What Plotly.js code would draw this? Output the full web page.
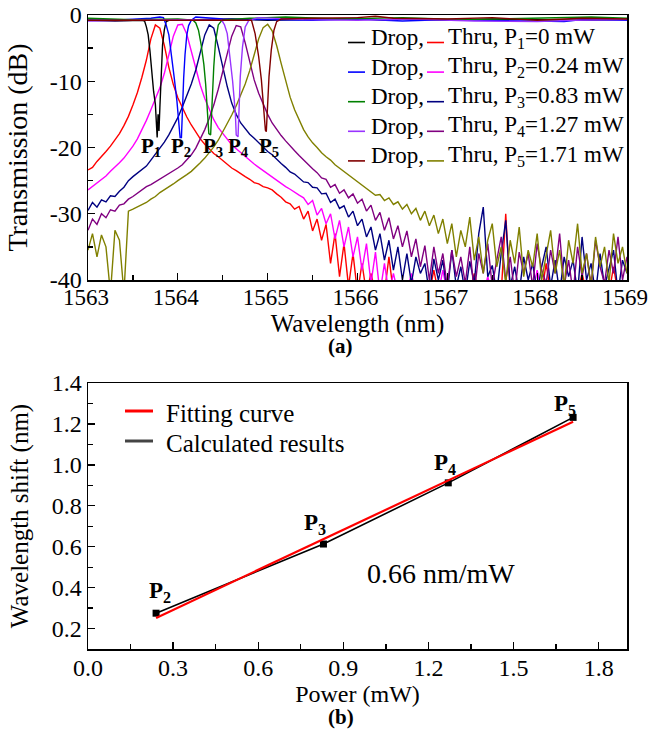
<!DOCTYPE html>
<html>
<head>
<meta charset="utf-8">
<script src="https://cdn.plot.ly/plotly-3.0.1.min.js"></script>
<style>html,body{margin:0;padding:0;background:#fff;}#chart{width:649px;height:730px;}</style>
</head>
<body>
<div id="chart"></div>
<script>
// ---------- Panel (a): transmission spectra ----------
const wavelength = [
1563.00,1563.05,1563.10,1563.15,1563.20,1563.25,1563.30,1563.35,1563.40,1563.45,1563.50,1563.55,1563.60,1563.65,1563.70,1563.75,1563.80,1563.85,1563.90,1563.95,
1564.00,1564.05,1564.10,1564.15,1564.20,1564.25,1564.30,1564.35,1564.40,1564.45,1564.50,1564.55,1564.60,1564.65,1564.70,1564.75,1564.80,1564.85,1564.90,1564.95,
1565.00,1565.05,1565.10,1565.15,1565.20,1565.25,1565.30,1565.35,1565.40,1565.45,1565.50,1565.55,1565.60,1565.65,1565.70,1565.75,1565.80,1565.85,1565.90,1565.95,
1566.00,1566.05,1566.10,1566.15,1566.20,1566.25,1566.30,1566.35,1566.40,1566.45,1566.50,1566.55,1566.60,1566.65,1566.70,1566.75,1566.80,1566.85,1566.90,1566.95,
1567.00,1567.05,1567.10,1567.15,1567.20,1567.25,1567.30,1567.35,1567.40,1567.45,1567.50,1567.55,1567.60,1567.65,1567.70,1567.75,1567.80,1567.85,1567.90,1567.95,
1568.00,1568.05,1568.10,1568.15,1568.20,1568.25,1568.30,1568.35,1568.40,1568.45,1568.50,1568.55,1568.60,1568.65,1568.70,1568.75,1568.80,1568.85,1568.90,1568.95,
1569.00];

const thruP1 = [
-23.4,-23.0,-22.1,-21.4,-20.6,-19.8,-18.9,-17.9,-16.7,-15.3,-13.6,-11.7,-9.4,-6.8,-3.6,-1.5,-2.0,-4.6,-7.9,-10.5,
-12.5,-14.0,-15.4,-16.6,-17.7,-18.7,-19.5,-20.2,-20.9,-21.4,-22.0,-22.5,-23.1,-23.5,-24.0,-24.4,-24.8,-25.3,-25.5,-25.9,
-26.1,-26.4,-27.0,-27.5,-28.2,-28.5,-29.3,-28.9,-30.8,-29.6,-32.6,-30.8,-34.0,-31.6,-37.5,-33.0,-39.5,-34.5,-41,-36.0,
-42,-37.5,-42,-39.0,-42,-40.5,-42,-36.5,-42,-42,-42,-41,-42,-42,-42,-42,-42,-38.5,-42,-42,
-42,-42,-41,-42,-42,-42,-39.0,-42,-42,-42,-42,-42,-42,-30.0,-42,-42,-42,-42,-41,-42,
-42,-42,-37.5,-42,-42,-42,-42,-42,-42,-42,-39.0,-42,-42,-42,-42,-42,-42,-38.0,-42,-42,
-42];

const thruP2 = [
-26.4,-25.9,-25.4,-24.8,-24.3,-23.6,-23.0,-22.3,-21.6,-20.7,-19.8,-18.7,-17.4,-15.9,-14.3,-12.6,-11.0,-8.8,-5.9,-3.2,
-1.5,-1.4,-2.9,-5.5,-8.2,-10.6,-12.6,-14.3,-15.8,-17.0,-17.9,-18.7,-19.6,-20.2,-20.8,-21.4,-21.9,-22.5,-23.0,-23.5,
-24.0,-24.5,-24.9,-25.4,-25.9,-26.3,-26.8,-27.2,-27.6,-28.6,-28.0,-30.2,-29.2,-31.5,-30.0,-33.8,-31.0,-35.0,-32.0,-36.5,
-33.5,-38.5,-34.5,-40.5,-35.8,-42,-37.5,-42,-39.0,-42,-42,-42,-39.0,-42,-42,-42,-42,-42,-42,-38.5,
-42,-42,-42,-42,-41,-42,-42,-42,-42,-39.5,-42,-42,-42,-42,-42,-42,-40.5,-42,-42,-42,
-38.5,-42,-42,-42,-42,-42,-42,-41,-42,-42,-42,-42,-39.5,-42,-42,-42,-42,-42,-42,-40.5,
-42];

const thruP3 = [
-29.5,-28.3,-29.0,-27.9,-28.2,-27.3,-27.4,-26.6,-26.0,-25.0,-24.4,-23.9,-23.3,-22.8,-21.9,-21.0,-20.2,-19.2,-18.1,-16.9,
-15.5,-13.9,-12.2,-10.4,-8.3,-5.7,-3.0,-1.5,-2.0,-4.8,-7.9,-10.8,-13.3,-15.0,-16.3,-17.2,-18.0,-18.6,-19.3,-19.9,
-20.6,-21.1,-21.8,-22.4,-23.0,-23.7,-24.0,-24.6,-25.2,-25.3,-26.0,-26.1,-27.0,-26.9,-28.3,-27.8,-29.2,-28.8,-30.5,-29.6,
-31.8,-30.8,-33.5,-32.0,-35.5,-33.0,-37.0,-34.0,-38.5,-35.0,-40.0,-36.0,-40.5,-36.5,-39.0,-37.5,-42,-36.8,-40.0,-37.0,
-42,-35.5,-41,-38.0,-42,-37.2,-40.5,-33.0,-29.0,-39.5,-37.8,-42,-36.0,-31.0,-41,-38.0,-42,-36.5,-40.0,-37.5,
-42,-38.0,-35.0,-41,-37.0,-42,-36.5,-39.5,-37.0,-42,-33.5,-40.0,-37.5,-42,-36.0,-41,-38.0,-35.5,-42,-37.0,
-39.0];

const thruP4 = [
-32.5,-30.8,-31.6,-30.0,-30.6,-29.4,-29.6,-28.7,-28.5,-27.8,-27.4,-26.9,-26.4,-25.9,-25.6,-25.2,-24.8,-24.4,-24.0,-23.6,
-23.1,-22.6,-21.9,-21.1,-20.1,-18.8,-17.3,-15.6,-13.6,-11.2,-8.6,-5.8,-3.2,-1.6,-1.8,-4.2,-7.1,-9.8,-11.8,-13.5,
-15.0,-16.3,-17.3,-18.2,-19.0,-19.8,-20.5,-21.2,-21.9,-22.6,-23.2,-23.8,-24.6,-24.8,-26.0,-25.6,-26.9,-26.4,-27.6,-27.0,
-28.4,-27.8,-29.6,-28.7,-31.0,-29.8,-32.5,-30.6,-33.8,-31.8,-35.0,-32.6,-36.5,-33.8,-38.0,-34.8,-40.0,-35.0,-39.0,-36.0,
-41,-35.5,-39.5,-36.5,-40.5,-35.0,-42,-36.0,-39.0,-34.5,-41,-37.0,-33.5,-40.0,-36.5,-42,-35.8,-39.0,-36.0,-41,
-34.5,-38.5,-40.5,-35.5,-39.0,-33.0,-41,-37.0,-42,-35.0,-39.5,-36.0,-41,-34.0,-38.0,-40.5,-35.5,-39.0,-33.5,-40.0,
-36.5];

const thruP5 = [
-35.5,-33.0,-36.5,-33.2,-35.0,-42,-32.5,-34.0,-42,-29.6,-29.3,-29.0,-28.6,-28.3,-27.8,-27.4,-26.8,-26.4,-25.9,-25.5,
-25.0,-24.6,-24.1,-23.6,-23.0,-22.3,-21.6,-20.8,-19.9,-18.9,-17.7,-16.4,-15.1,-13.7,-12.1,-10.4,-8.4,-6.1,-3.6,-1.9,
-1.4,-2.4,-4.6,-7.3,-10.0,-12.4,-14.3,-15.9,-17.3,-18.4,-19.3,-20.0,-20.8,-21.4,-21.9,-22.6,-23.1,-23.6,-24.2,-24.7,
-25.1,-25.6,-26.1,-26.6,-27.2,-27.1,-28.0,-27.6,-28.6,-28.2,-29.3,-28.6,-30.0,-29.2,-31.0,-29.6,-31.8,-30.2,-33.0,-30.8,
-34.5,-31.5,-36.5,-32.5,-35.0,-30.5,-37.0,-33.5,-39.0,-34.0,-31.5,-38.0,-35.0,-40.5,-34.0,-37.5,-32.0,-39.5,-35.5,-38.0,
-33.0,-40.0,-36.0,-32.5,-39.0,-35.5,-41,-34.0,-37.5,-31.5,-39.0,-36.0,-41,-33.5,-38.0,-35.0,-40.5,-33.0,-37.5,-35.0,
-39.0];

const dropP1X = [1563.00,1563.30,1563.60,1563.63,1563.65,1563.67,1563.69,1563.71,1563.73,1563.75,1563.76,1563.77,1563.78,1563.79,1563.80,1563.81,1563.82,1563.83,1563.85,1563.87,1563.90,1564.20,1564.60,1565.00,1565.50,1566.00,1566.30,1566.45,1567.00,1567.50,1568.00,1568.50,1569.00];
const dropP1Y = [-0.8,-0.9,-0.8,-0.9,-1.8,-3.0,-5.5,-9.0,-11.5,-13.5,-16.0,-18.5,-15.0,-17.5,-14.0,-10.5,-7.0,-4.5,-2.2,-1.0,-0.8,-0.7,-0.6,-0.8,-0.7,-0.5,-0.8,-0.6,-0.8,-0.6,-0.7,-0.8,-0.7];
const dropP2X = [1563.00,1563.40,1563.70,1563.80,1563.84,1563.87,1563.90,1563.93,1563.96,1563.99,1564.01,1564.025,1564.04,1564.05,1564.065,1564.08,1564.10,1564.12,1564.15,1564.20,1564.50,1565.00,1565.50,1566.00,1566.50,1567.00,1567.50,1568.00,1568.30,1568.50,1569.00];
const dropP2Y = [-0.8,-0.7,-0.5,-0.3,-0.4,-1.5,-3.0,-6.0,-9.5,-13.0,-16.5,-18.5,-18.5,-14.0,-9.5,-6.0,-3.0,-1.6,-0.8,-0.3,-0.6,-0.7,-0.8,-0.6,-0.9,-0.7,-0.8,-1.0,-1.0,-0.7,-0.8];
const dropP3X = [1563.00,1563.50,1564.00,1564.17,1564.20,1564.23,1564.26,1564.29,1564.31,1564.33,1564.345,1564.365,1564.38,1564.40,1564.42,1564.45,1564.49,1564.55,1564.80,1565.20,1565.80,1566.50,1567.20,1568.00,1568.60,1569.00];
const dropP3Y = [-0.5,-0.7,-0.6,-0.8,-1.2,-2.3,-4.5,-7.5,-10.5,-14.3,-17.9,-18.1,-12.8,-7.8,-4.0,-1.5,-0.8,-0.7,-0.5,-0.3,-0.6,-0.4,-0.7,-0.5,-0.3,-0.5];
const dropP4X = [1563.00,1563.50,1564.00,1564.49,1564.52,1564.55,1564.58,1564.61,1564.64,1564.65,1564.67,1564.68,1564.695,1564.72,1564.75,1564.79,1564.90,1565.40,1566.00,1566.60,1567.30,1568.00,1568.40,1569.00];
const dropP4Y = [-0.9,-0.8,-0.7,-0.8,-1.5,-2.8,-6.0,-10.0,-14.8,-18.1,-18.4,-14.3,-9.3,-4.8,-1.8,-0.8,-0.4,-0.7,-0.8,-0.6,-0.9,-1.0,-0.8,-0.7];
const dropP5X = [1563.00,1563.50,1564.00,1564.50,1564.82,1564.86,1564.90,1564.93,1564.955,1564.975,1564.985,1565.00,1565.015,1565.04,1565.07,1565.10,1565.15,1565.50,1566.00,1566.20,1566.40,1567.00,1567.50,1568.00,1568.50,1569.00];
const dropP5Y = [-0.8,-0.8,-0.9,-0.8,-0.8,-2.8,-6.3,-9.8,-13.8,-17.4,-17.6,-13.8,-9.3,-5.3,-2.3,-1.0,-0.6,-0.5,-0.4,-0.2,-0.5,-0.6,-0.4,-0.8,-0.5,-0.6];

const powerLabels = ['P<sub>1</sub>=0 mW','P<sub>2</sub>=0.24 mW','P<sub>3</sub>=0.83 mW','P<sub>4</sub>=1.27 mW','P<sub>5</sub>=1.71 mW'];
const dropColors = ['#000000','#0000ff','#008000','#9933ff','#800000'];
const thruColors = ['#ff0000','#ff00ff','#000080','#800080','#808000'];
const peakNames = ['P<sub>1</sub>','P<sub>2</sub>','P<sub>3</sub>','P<sub>4</sub>','P<sub>5</sub>'];
const peakLabelWl = [1563.70,1564.04,1564.39,1564.67,1565.02];
const peakLabelDb = -19.9;
const xTickVals = [1563,1564,1565,1566,1567,1568,1569];
const yTickVals = [-40,-30,-20,-10,0];
const yTickText = ['-40','-30','-20','-10','0'];

// ---------- Panel (b): wavelength shift vs power ----------
const power = [0.24, 0.83, 1.27, 1.71];
const shift = [0.275, 0.613, 0.912, 1.232];
const fitPower = [0.24, 1.71];
const fitShift = [0.252, 1.211];
const shiftLabels = ['P<sub>2</sub>','P<sub>3</sub>','P<sub>4</sub>','P<sub>5</sub>'];
const shiftLabelDx = [4, -8, -3, -8];
const shiftLabelDy = [21, 20, 19, 12];

// ---------- geometry helpers (pixel -> paper) ----------
const L = 88, R = 22, T = 15, B = 81, W = 649, H = 730;
const PW = W - L - R, PH = H - T - B;
const px = x => (x - L) / PW;
const py = y => (H - B - y) / PH;

const FONT = 'Liberation Serif, Times New Roman, serif';

const thruY = [thruP1, thruP2, thruP3, thruP4, thruP5];
const dropX = [dropP1X, dropP2X, dropP3X, dropP4X, dropP5X];
const dropY = [dropP1Y, dropP2Y, dropP3Y, dropP4Y, dropP5Y];

const traces = [];
for (let i = 0; i < 5; i++) {
  traces.push({x: wavelength, y: thruY[i], type: 'scatter', mode: 'lines', name: 'Thru, ' + powerLabels[i],
    line: {color: thruColors[i], width: 1.4}, xaxis: 'x', yaxis: 'y', showlegend: false, hoverinfo: 'skip'});
}
for (let i = 0; i < 5; i++) {
  traces.push({x: dropX[i], y: dropY[i], type: 'scatter', mode: 'lines', name: 'Drop, ' + powerLabels[i],
    line: {color: dropColors[i], width: 1.4}, xaxis: 'x', yaxis: 'y', showlegend: false, hoverinfo: 'skip'});
}
traces.push({x: power, y: shift, type: 'scatter', mode: 'lines+markers', name: 'Calculated results',
  line: {color: '#000000', width: 1.6}, marker: {symbol: 'square', size: 7, color: '#000000'},
  xaxis: 'x2', yaxis: 'y2', showlegend: false});
traces.push({x: fitPower, y: fitShift, type: 'scatter', mode: 'lines', name: 'Fitting curve',
  line: {color: '#ff0000', width: 2.2}, xaxis: 'x2', yaxis: 'y2', showlegend: false});

const annotations = [];
const shapes = [];

// legend of panel (a)
for (let i = 0; i < 5; i++) {
  const cy = 37.5 + 29.6 * i;
  shapes.push({type: 'line', xref: 'paper', yref: 'paper', x0: px(348), x1: px(365), y0: py(cy + 5), y1: py(cy + 5),
    line: {color: dropColors[i], width: 1.6}});
  shapes.push({type: 'line', xref: 'paper', yref: 'paper', x0: px(427), x1: px(444), y0: py(cy + 5), y1: py(cy + 5),
    line: {color: thruColors[i], width: 1.6}});
  annotations.push({xref: 'paper', yref: 'paper', x: px(369), y: py(cy), xanchor: 'left', yanchor: 'middle',
    text: 'Drop,', showarrow: false, font: {family: FONT, size: 23, color: '#000'}});
  annotations.push({xref: 'paper', yref: 'paper', x: px(446), y: py(cy), xanchor: 'left', yanchor: 'middle',
    text: 'Thru, ' + powerLabels[i], showarrow: false, font: {family: FONT, size: 23, color: '#000'}});
}
// peak labels in panel (a)
for (let i = 0; i < 5; i++) {
  annotations.push({xref: 'x', yref: 'y', x: peakLabelWl[i], y: peakLabelDb, xanchor: 'center', yanchor: 'middle',
    text: '<b>' + peakNames[i] + '</b>', showarrow: false, font: {family: FONT, size: 21, color: '#000'}});
}
// legend of panel (b)
shapes.push({type: 'line', xref: 'paper', yref: 'paper', x0: px(125), x1: px(153), y0: py(411), y1: py(411),
  line: {color: '#ff0000', width: 3}});
shapes.push({type: 'line', xref: 'paper', yref: 'paper', x0: px(125), x1: px(153), y0: py(441), y1: py(441),
  line: {color: '#444444', width: 3}});
annotations.push({xref: 'paper', yref: 'paper', x: px(164), y: py(413), xanchor: 'left', yanchor: 'middle',
  text: 'Fitting curve', showarrow: false, font: {family: FONT, size: 25, color: '#000'}});
annotations.push({xref: 'paper', yref: 'paper', x: px(164), y: py(443), xanchor: 'left', yanchor: 'middle',
  text: 'Calculated results', showarrow: false, font: {family: FONT, size: 25, color: '#000'}});
// point labels in panel (b)
for (let i = 0; i < 4; i++) {
  annotations.push({xref: 'x2', yref: 'y2', x: power[i], y: shift[i], xshift: shiftLabelDx[i], yshift: shiftLabelDy[i],
    xanchor: 'center', yanchor: 'middle', text: '<b>' + shiftLabels[i] + '</b>', showarrow: false,
    font: {family: FONT, size: 23, color: '#000'}});
}
annotations.push({xref: 'paper', yref: 'paper', x: px(441), y: py(573), xanchor: 'center', yanchor: 'middle',
  text: '0.66 nm/mW', showarrow: false, font: {family: FONT, size: 28, color: '#000'}});
annotations.push({xref: 'paper', yref: 'paper', x: px(340), y: py(346), xanchor: 'center', yanchor: 'middle',
  text: '<b>(a)</b>', showarrow: false, font: {family: FONT, size: 21, color: '#000'}});
annotations.push({xref: 'paper', yref: 'paper', x: px(341), y: py(717), xanchor: 'center', yanchor: 'middle',
  text: '<b>(b)</b>', showarrow: false, font: {family: FONT, size: 21, color: '#000'}});

const axisCommon = {
  showline: true, linecolor: '#000', linewidth: 1.5, mirror: true,
  ticks: 'inside', ticklen: 7, tickwidth: 1.3, tickcolor: '#000',
  showgrid: false, zeroline: false,
  tickfont: {family: FONT, size: 24, color: '#000'}
};

const layout = {
  width: W, height: H,
  margin: {l: L, r: R, t: T, b: B, pad: 0},
  paper_bgcolor: '#fff', plot_bgcolor: '#fff',
  font: {family: FONT, color: '#000'},
  showlegend: false,
  xaxis: Object.assign({}, axisCommon, {
    domain: [0, 1], anchor: 'y', range: [1563, 1569], tickmode: 'array', tickvals: xTickVals,
    tickfont: {family: FONT, size: 23, color: '#000'},
    ticklabelstandoff: -4, ticklabeloverflow: 'allow', ticklabelshift: -2,
    minor: {ticks: 'inside', ticklen: 5, dtick: 0.5, tick0: 1563, tickcolor: '#000', showgrid: false},
    title: {text: 'Wavelength (nm)', font: {family: FONT, size: 25, color: '#000'}, standoff: 2}
  }),
  yaxis: Object.assign({}, axisCommon, {
    domain: [py(280), 1], anchor: 'x', range: [-40, 0], tickmode: 'array', tickvals: yTickVals, ticktext: yTickText,
    minor: {ticks: 'inside', ticklen: 5, dtick: 5, tick0: 0, tickcolor: '#000', showgrid: false},
    title: {text: 'Transmission (dB)', font: {family: FONT, size: 28, color: '#000'}, standoff: 14}
  }),
  xaxis2: Object.assign({}, axisCommon, {
    domain: [0, 1], anchor: 'y2', range: [0, 1.9], dtick: 0.3, tick0: 0, tickformat: '.1f',
    ticklabelstandoff: -3,
    minor: {ticks: 'inside', ticklen: 5, dtick: 0.15, tick0: 0, tickcolor: '#000', showgrid: false},
    title: {text: 'Power (mW)', font: {family: FONT, size: 24, color: '#000'}, standoff: 0}
  }),
  yaxis2: Object.assign({}, axisCommon, {
    domain: [0, py(383)], anchor: 'x2', range: [0.1, 1.4], dtick: 0.2, tick0: 0, tickformat: '.1f',
    minor: {ticks: 'inside', ticklen: 5, dtick: 0.1, tick0: 0, tickcolor: '#000', showgrid: false},
    title: {text: 'Wavelength shift (nm)', font: {family: FONT, size: 25, color: '#000'}, standoff: 16}
  }),
  annotations: annotations,
  shapes: shapes
};

Plotly.newPlot('chart', traces, layout, {displayModeBar: false, staticPlot: true});
</script>
</body>
</html>
